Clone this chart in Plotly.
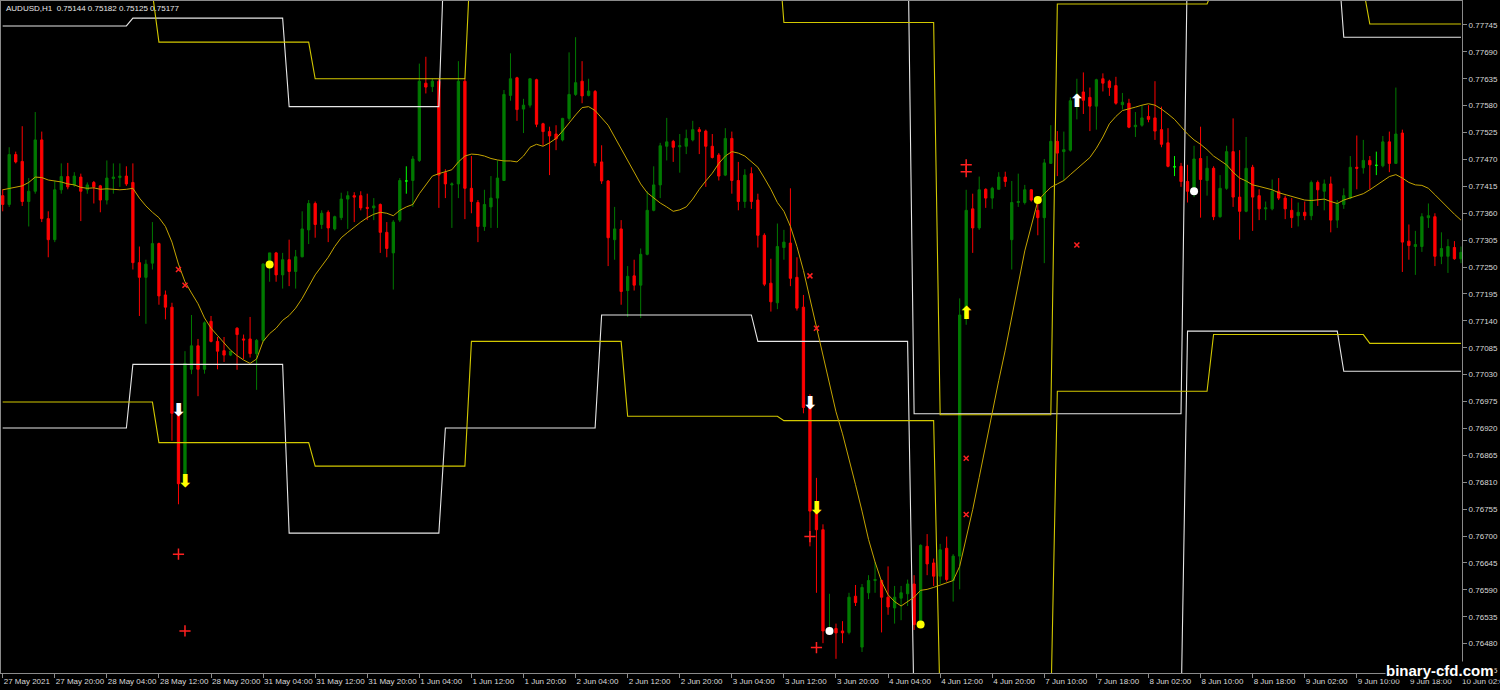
import plotly.graph_objects as go

# ---------------- AUDUSD H1 candles (bar 0 = 27 May 2021 12:00) ----------------
opens = [
    0.77396, 0.77378, 0.77480, 0.77466, 0.77384, 0.77405, 0.77510, 0.77349, 0.77306, 0.77408,
    0.77435, 0.77418, 0.77434, 0.77408, 0.77423, 0.77416, 0.77387, 0.77431, 0.77433, 0.77436,
    0.77423, 0.77259, 0.77229, 0.77258, 0.77298, 0.77193, 0.77168, 0.76951, 0.76807, 0.77041,
    0.77089, 0.77041, 0.77139, 0.77098, 0.77079, 0.77070, 0.77125, 0.77103, 0.77103, 0.77073,
    0.77100, 0.77252, 0.77279, 0.77234, 0.77265, 0.77241, 0.77271, 0.77326, 0.77380, 0.77337,
    0.77362, 0.77328, 0.77351, 0.77389, 0.77396, 0.77396, 0.77372, 0.77371, 0.77378, 0.77321,
    0.77279, 0.77346, 0.77426, 0.77427, 0.77468, 0.77626, 0.77619, 0.77630, 0.77443, 0.77418,
    0.77420, 0.77630, 0.77411, 0.77382, 0.77333, 0.77373, 0.77391, 0.77427, 0.77601, 0.77637,
    0.77573, 0.77581, 0.77633, 0.77543, 0.77527, 0.77522, 0.77510, 0.77554, 0.77603, 0.77630,
    0.77601, 0.77609, 0.77465, 0.77426, 0.77306, 0.77328, 0.77202, 0.77232, 0.77213, 0.77276,
    0.77366, 0.77418, 0.77497, 0.77507, 0.77496, 0.77497, 0.77510, 0.77531, 0.77528, 0.77497,
    0.77479, 0.77438, 0.77513, 0.77427, 0.77384, 0.77441, 0.77387, 0.77315, 0.77217, 0.77177,
    0.77290, 0.77299, 0.77229, 0.77168, 0.76966, 0.76751, 0.76713, 0.76506, 0.76511, 0.76506,
    0.76503, 0.76577, 0.76473, 0.76584, 0.76609, 0.76609, 0.76575, 0.76553, 0.76573, 0.76582,
    0.76602, 0.76519, 0.76679, 0.76645, 0.76618, 0.76675, 0.76609, 0.76659, 0.77150, 0.77369,
    0.77330, 0.77409, 0.77391, 0.77409, 0.77434, 0.77306, 0.77382, 0.77382, 0.77408, 0.77366,
    0.77351, 0.77462, 0.77507, 0.77486, 0.77489, 0.77581, 0.77608, 0.77597, 0.77579, 0.77635,
    0.77630, 0.77621, 0.77582, 0.77585, 0.77537, 0.77540, 0.77558, 0.77555, 0.77531, 0.77504,
    0.77455, 0.77456, 0.77425, 0.77405, 0.77472, 0.77427, 0.77452, 0.77353, 0.77411, 0.77486,
    0.77393, 0.77364, 0.77454, 0.77396, 0.77369, 0.77369, 0.77405, 0.77391, 0.77366, 0.77355,
    0.77362, 0.77355, 0.77423, 0.77405, 0.77420, 0.77346, 0.77378, 0.77391, 0.77454, 0.77453,
    0.77468, 0.77458, 0.77457, 0.77506, 0.77462, 0.77524, 0.77303, 0.77292, 0.77292, 0.77351,
    0.77353, 0.77272, 0.77272, 0.77290, 0.77267,
]
highs = [
    0.77409, 0.77495, 0.77486, 0.77538, 0.77432, 0.77567, 0.77527, 0.77364, 0.77427, 0.77462,
    0.77463, 0.77444, 0.77441, 0.77423, 0.77426, 0.77418, 0.77468, 0.77462, 0.77462, 0.77456,
    0.77462, 0.77292, 0.77265, 0.77342, 0.77300, 0.77202, 0.77177, 0.76963, 0.77078, 0.77152,
    0.77103, 0.77139, 0.77150, 0.77107, 0.77107, 0.77078, 0.77127, 0.77112, 0.77148, 0.77103,
    0.77258, 0.77279, 0.77281, 0.77279, 0.77306, 0.77285, 0.77364, 0.77387, 0.77384, 0.77366,
    0.77366, 0.77355, 0.77402, 0.77405, 0.77403, 0.77405, 0.77400, 0.77391, 0.77380, 0.77342,
    0.77346, 0.77432, 0.77456, 0.77477, 0.77666, 0.77680, 0.77635, 0.77635, 0.77450, 0.77423,
    0.77671, 0.77635, 0.77477, 0.77387, 0.77408, 0.77436, 0.77468, 0.77612, 0.77687, 0.77639,
    0.77594, 0.77635, 0.77635, 0.77545, 0.77537, 0.77540, 0.77555, 0.77689, 0.77720, 0.77671,
    0.77635, 0.77612, 0.77499, 0.77428, 0.77373, 0.77346, 0.77252, 0.77265, 0.77288, 0.77405,
    0.77456, 0.77504, 0.77555, 0.77510, 0.77522, 0.77531, 0.77549, 0.77536, 0.77531, 0.77522,
    0.77483, 0.77534, 0.77527, 0.77465, 0.77450, 0.77454, 0.77400, 0.77319, 0.77267, 0.77339,
    0.77326, 0.77411, 0.77270, 0.77193, 0.76990, 0.76819, 0.76724, 0.76582, 0.76521, 0.76526,
    0.76584, 0.76600, 0.76602, 0.76620, 0.76647, 0.76611, 0.76638, 0.76598, 0.76598, 0.76611,
    0.76620, 0.76683, 0.76704, 0.76654, 0.76684, 0.76699, 0.76663, 0.77186, 0.77408, 0.77400,
    0.77435, 0.77411, 0.77414, 0.77444, 0.77445, 0.77426, 0.77441, 0.77418, 0.77409, 0.77382,
    0.77471, 0.77540, 0.77528, 0.77527, 0.77597, 0.77635, 0.77648, 0.77617, 0.77635, 0.77646,
    0.77633, 0.77639, 0.77606, 0.77594, 0.77567, 0.77581, 0.77581, 0.77630, 0.77578, 0.77534,
    0.77477, 0.77463, 0.77459, 0.77498, 0.77537, 0.77477, 0.77456, 0.77438, 0.77498, 0.77554,
    0.77489, 0.77516, 0.77459, 0.77409, 0.77384, 0.77429, 0.77432, 0.77396, 0.77391, 0.77382,
    0.77384, 0.77427, 0.77427, 0.77429, 0.77435, 0.77387, 0.77411, 0.77477, 0.77519, 0.77510,
    0.77477, 0.77486, 0.77518, 0.77527, 0.77617, 0.77531, 0.77337, 0.77324, 0.77360, 0.77380,
    0.77360, 0.77321, 0.77307, 0.77303, 0.77292,
]
lows = [
    0.77364, 0.77373, 0.77462, 0.77375, 0.77333, 0.77400, 0.77342, 0.77270, 0.77301, 0.77400,
    0.77409, 0.77414, 0.77344, 0.77400, 0.77380, 0.77362, 0.77378, 0.77400, 0.77414, 0.77416,
    0.77245, 0.77150, 0.77134, 0.77245, 0.77173, 0.77143, 0.76895, 0.76765, 0.76805, 0.77031,
    0.76986, 0.77032, 0.77096, 0.77041, 0.77056, 0.77068, 0.77040, 0.77062, 0.77065, 0.76999,
    0.77096, 0.77220, 0.77220, 0.77206, 0.77211, 0.77206, 0.77270, 0.77297, 0.77310, 0.77328,
    0.77301, 0.77325, 0.77346, 0.77328, 0.77342, 0.77366, 0.77346, 0.77346, 0.77279, 0.77270,
    0.77204, 0.77342, 0.77400, 0.77373, 0.77465, 0.77605, 0.77608, 0.77371, 0.77391, 0.77330,
    0.77391, 0.77348, 0.77360, 0.77301, 0.77324, 0.77330, 0.77330, 0.77426, 0.77590, 0.77549,
    0.77524, 0.77576, 0.77536, 0.77498, 0.77438, 0.77489, 0.77507, 0.77549, 0.77600, 0.77585,
    0.77599, 0.77456, 0.77420, 0.77252, 0.77265, 0.77173, 0.77148, 0.77202, 0.77146, 0.77274,
    0.77364, 0.77391, 0.77468, 0.77465, 0.77443, 0.77481, 0.77507, 0.77481, 0.77414, 0.77472,
    0.77427, 0.77436, 0.77400, 0.77366, 0.77371, 0.77369, 0.77290, 0.77211, 0.77159, 0.77164,
    0.77265, 0.77211, 0.77161, 0.76951, 0.76679, 0.76584, 0.76481, 0.76499, 0.76449, 0.76481,
    0.76499, 0.76557, 0.76463, 0.76571, 0.76584, 0.76503, 0.76539, 0.76521, 0.76528, 0.76557,
    0.76508, 0.76517, 0.76620, 0.76598, 0.76602, 0.76607, 0.76566, 0.76591, 0.77132, 0.77279,
    0.77326, 0.77371, 0.77369, 0.77409, 0.77414, 0.77245, 0.77373, 0.77378, 0.77384, 0.77315,
    0.77258, 0.77462, 0.77436, 0.77427, 0.77486, 0.77552, 0.77563, 0.77528, 0.77531, 0.77609,
    0.77600, 0.77582, 0.77572, 0.77534, 0.77516, 0.77537, 0.77546, 0.77510, 0.77495, 0.77454,
    0.77436, 0.77414, 0.77382, 0.77393, 0.77351, 0.77396, 0.77346, 0.77351, 0.77408, 0.77373,
    0.77306, 0.77362, 0.77324, 0.77346, 0.77346, 0.77366, 0.77387, 0.77348, 0.77330, 0.77333,
    0.77346, 0.77346, 0.77375, 0.77366, 0.77321, 0.77330, 0.77369, 0.77389, 0.77409, 0.77441,
    0.77409, 0.77438, 0.77454, 0.77444, 0.77462, 0.77240, 0.77265, 0.77234, 0.77281, 0.77330,
    0.77252, 0.77256, 0.77238, 0.77265, 0.77258,
]
closes = [
    0.77378, 0.77480, 0.77465, 0.77384, 0.77405, 0.77510, 0.77349, 0.77306, 0.77408, 0.77435,
    0.77414, 0.77436, 0.77405, 0.77418, 0.77414, 0.77387, 0.77432, 0.77434, 0.77436, 0.77420,
    0.77259, 0.77229, 0.77256, 0.77298, 0.77191, 0.77168, 0.76951, 0.76807, 0.77053, 0.77089,
    0.77041, 0.77136, 0.77098, 0.77078, 0.77070, 0.77078, 0.77112, 0.77101, 0.77073, 0.77100,
    0.77256, 0.77279, 0.77234, 0.77265, 0.77241, 0.77271, 0.77328, 0.77380, 0.77337, 0.77360,
    0.77330, 0.77353, 0.77389, 0.77396, 0.77393, 0.77371, 0.77370, 0.77375, 0.77321, 0.77288,
    0.77342, 0.77427, 0.77426, 0.77471, 0.77630, 0.77618, 0.77630, 0.77438, 0.77420, 0.77420,
    0.77630, 0.77411, 0.77384, 0.77333, 0.77378, 0.77391, 0.77432, 0.77603, 0.77635, 0.77572,
    0.77581, 0.77635, 0.77542, 0.77527, 0.77518, 0.77512, 0.77554, 0.77603, 0.77627, 0.77600,
    0.77610, 0.77463, 0.77426, 0.77310, 0.77328, 0.77200, 0.77231, 0.77213, 0.77276, 0.77366,
    0.77418, 0.77498, 0.77506, 0.77495, 0.77498, 0.77513, 0.77531, 0.77527, 0.77497, 0.77474,
    0.77436, 0.77513, 0.77427, 0.77384, 0.77438, 0.77384, 0.77315, 0.77215, 0.77179, 0.77292,
    0.77301, 0.77227, 0.77166, 0.76963, 0.76751, 0.76713, 0.76506, 0.76512, 0.76502, 0.76502,
    0.76575, 0.76564, 0.76595, 0.76609, 0.76611, 0.76575, 0.76555, 0.76575, 0.76584, 0.76602,
    0.76519, 0.76681, 0.76643, 0.76618, 0.76672, 0.76611, 0.76659, 0.77152, 0.77366, 0.77330,
    0.77408, 0.77391, 0.77411, 0.77434, 0.77425, 0.77382, 0.77384, 0.77408, 0.77387, 0.77351,
    0.77463, 0.77507, 0.77483, 0.77490, 0.77590, 0.77603, 0.77591, 0.77579, 0.77633, 0.77626,
    0.77617, 0.77585, 0.77587, 0.77536, 0.77540, 0.77555, 0.77552, 0.77528, 0.77501, 0.77456,
    0.77455, 0.77425, 0.77405, 0.77471, 0.77429, 0.77452, 0.77353, 0.77411, 0.77486, 0.77393,
    0.77364, 0.77452, 0.77393, 0.77369, 0.77371, 0.77405, 0.77391, 0.77369, 0.77351, 0.77362,
    0.77355, 0.77423, 0.77408, 0.77420, 0.77346, 0.77380, 0.77396, 0.77454, 0.77452, 0.77468,
    0.77459, 0.77458, 0.77506, 0.77462, 0.77522, 0.77301, 0.77294, 0.77296, 0.77353, 0.77355,
    0.77272, 0.77288, 0.77292, 0.77267, 0.77280,
]

# smoothed moving average drawn over the candles
ma_values = [
    0.77408, 0.77411, 0.77414, 0.77416, 0.77423, 0.77434, 0.77433, 0.77428, 0.77426, 0.77424,
    0.77420, 0.77418, 0.77413, 0.77411, 0.77412, 0.77409, 0.77410, 0.77409, 0.77408, 0.77409,
    0.77411, 0.77391, 0.77375, 0.77362, 0.77351, 0.77333, 0.77301, 0.77256, 0.77220, 0.77197,
    0.77175, 0.77146, 0.77125, 0.77110, 0.77094, 0.77080, 0.77069, 0.77060, 0.77053, 0.77062,
    0.77098, 0.77114, 0.77125, 0.77141, 0.77151, 0.77166, 0.77186, 0.77209, 0.77234, 0.77252,
    0.77270, 0.77292, 0.77310, 0.77321, 0.77332, 0.77342, 0.77351, 0.77358, 0.77362, 0.77360,
    0.77355, 0.77366, 0.77373, 0.77378, 0.77400, 0.77418, 0.77436, 0.77441, 0.77445, 0.77449,
    0.77465, 0.77477, 0.77481, 0.77480, 0.77477, 0.77472, 0.77469, 0.77467, 0.77467, 0.77465,
    0.77477, 0.77495, 0.77501, 0.77497, 0.77504, 0.77513, 0.77528, 0.77545, 0.77561, 0.77576,
    0.77578, 0.77570, 0.77555, 0.77540, 0.77516, 0.77492, 0.77465, 0.77443, 0.77420, 0.77402,
    0.77391, 0.77381, 0.77373, 0.77364, 0.77367, 0.77373, 0.77389, 0.77409, 0.77426, 0.77442,
    0.77462, 0.77477, 0.77486, 0.77483, 0.77477, 0.77465, 0.77454, 0.77432, 0.77409, 0.77382,
    0.77364, 0.77333, 0.77292, 0.77243, 0.77184, 0.77125, 0.77067, 0.77013, 0.76954, 0.76909,
    0.76859, 0.76805, 0.76751, 0.76693, 0.76647, 0.76607, 0.76580, 0.76566, 0.76557, 0.76566,
    0.76575, 0.76589, 0.76591, 0.76595, 0.76600, 0.76604, 0.76609, 0.76638, 0.76694, 0.76754,
    0.76820, 0.76888, 0.76957, 0.77018, 0.77080, 0.77146, 0.77215, 0.77283, 0.77334, 0.77385,
    0.77400, 0.77413, 0.77420, 0.77427, 0.77439, 0.77451, 0.77462, 0.77474, 0.77493, 0.77516,
    0.77543, 0.77558, 0.77570, 0.77573, 0.77577, 0.77581, 0.77584, 0.77581, 0.77573, 0.77563,
    0.77552, 0.77537, 0.77522, 0.77510, 0.77501, 0.77490, 0.77477, 0.77468, 0.77459, 0.77444,
    0.77432, 0.77426, 0.77418, 0.77415, 0.77411, 0.77408, 0.77402, 0.77398, 0.77394, 0.77391,
    0.77387, 0.77386, 0.77387, 0.77389, 0.77384, 0.77380, 0.77387, 0.77391, 0.77395, 0.77400,
    0.77408, 0.77417, 0.77426, 0.77435, 0.77439, 0.77432, 0.77423, 0.77418, 0.77417, 0.77411,
    0.77398, 0.77384, 0.77371, 0.77358, 0.77346,
]

# daily channel levels: first bar of each level and its price
white_upper_start = [0, 20, 44, 68, 140, 182, 206]
white_upper_level = [0.77743, 0.77759, 0.77578, 0.77960, 0.76950, 0.77900, 0.77720]
white_lower_start = [0, 20, 44, 68, 92, 116, 140, 182, 206]
white_lower_level = [0.76921, 0.77051, 0.76706, 0.76921, 0.77152, 0.77098, 0.76340, 0.77119, 0.77037]
yellow_upper_start = [0, 24, 48, 72, 120, 144, 162, 186, 210]
yellow_upper_level = [0.77810, 0.77710, 0.77635, 0.77920, 0.77750, 0.76948, 0.77788, 0.77820, 0.77747]
yellow_lower_start = [0, 24, 48, 72, 96, 120, 144, 162, 186, 210]
yellow_lower_level = [0.76974, 0.76891, 0.76843, 0.77098, 0.76945, 0.76936, 0.76350, 0.76996, 0.77112, 0.77094]

# signal marks
white_down_bar, white_down_price = [27, 124], [0.76954, 0.76968]
yellow_down_bar, yellow_down_price = [28, 125], [0.76810, 0.76754]
yellow_up_bar, yellow_up_price = [148], [0.77152]
white_up_bar, white_up_price = [165], [0.77587]
yellow_dot_bar, yellow_dot_price = [41, 141, 159], [0.77255, 0.76519, 0.77387]
white_dot_bar, white_dot_price = [127, 183], [0.76506, 0.77405]
red_x_bar = [27, 28, 124, 125, 148, 148, 165]
red_x_price = [0.77245, 0.77213, 0.77232, 0.77125, 0.76859, 0.76744, 0.77295]
red_plus_bar = [27, 28, 124, 125, 148, 148]
red_plus_price = [0.76663, 0.76506, 0.76699, 0.76472, 0.77459, 0.77445]

# axis labels
time_labels = [
    "27 May 2021", "27 May 20:00", "28 May 04:00", "28 May 12:00", "28 May 20:00",
    "31 May 04:00", "31 May 12:00", "31 May 20:00", "1 Jun 04:00", "1 Jun 12:00",
    "1 Jun 20:00", "2 Jun 04:00", "2 Jun 12:00", "2 Jun 20:00", "3 Jun 04:00",
    "3 Jun 12:00", "3 Jun 20:00", "4 Jun 04:00", "4 Jun 12:00", "4 Jun 20:00",
    "7 Jun 10:00", "7 Jun 18:00", "8 Jun 02:00", "8 Jun 10:00", "8 Jun 18:00",
    "9 Jun 02:00", "9 Jun 10:00", "9 Jun 18:00", "10 Jun 02:00",
]
time_label_bars = [0, 8, 16, 24, 32, 40, 48, 56, 64, 72, 80, 88, 96, 104, 112, 120, 128,
                   136, 144, 152, 160, 168, 176, 184, 192, 200, 208, 216, 224]
price_ticks = [
    0.76425, 0.76480, 0.76535, 0.76590, 0.76645, 0.76700, 0.76755, 0.76810, 0.76865,
    0.76920, 0.76975, 0.77030, 0.77085, 0.77140, 0.77195, 0.77250, 0.77305, 0.77360,
    0.77415, 0.77470, 0.77525, 0.77580, 0.77635, 0.77690, 0.77745,
]

header = "AUDUSD,H1  0.75144 0.75182 0.75125 0.75177"
watermark = "binary-cfd.com"

# ---------------------------------------------------------------------------
n_bars = len(opens)
bars = list(range(n_bars))
FONT = "Liberation Sans"
AXIS = "#8a8a8a"
TEXT = "#d8d8d8"


def step_series(starts, levels):
    out = []
    for k, s in enumerate(starts):
        e = starts[k + 1] if k + 1 < len(starts) else n_bars
        out.extend([levels[k]] * (e - s))
    return out


def candle_trace(idx, color):
    return go.Candlestick(
        x=idx,
        open=[opens[i] for i in idx],
        high=[highs[i] for i in idx],
        low=[lows[i] for i in idx],
        close=[closes[i] for i in idx],
        increasing=dict(line=dict(color=color, width=1), fillcolor=color),
        decreasing=dict(line=dict(color=color, width=1), fillcolor=color),
        whiskerwidth=0,
        hoverinfo="skip",
        showlegend=False,
    )


bull = [i for i in bars if closes[i] > opens[i]]
bear = [i for i in bars if closes[i] < opens[i]]
doji = [i for i in bars if closes[i] == opens[i]]

fig = go.Figure()
fig.add_trace(candle_trace(bull, "#007a00"))
fig.add_trace(candle_trace(bear, "#ff0000"))
fig.add_trace(candle_trace(doji, "#00ff00"))

line_sets = [
    (white_upper_start, white_upper_level, "#e6e6e6"),
    (white_lower_start, white_lower_level, "#e6e6e6"),
    (yellow_upper_start, yellow_upper_level, "#d2c800"),
    (yellow_lower_start, yellow_lower_level, "#d2c800"),
]
for starts, levels, color in line_sets:
    fig.add_trace(go.Scatter(x=bars, y=step_series(starts, levels), mode="lines",
                             line=dict(color=color, width=1.1), hoverinfo="skip",
                             showlegend=False))

fig.add_trace(go.Scatter(x=bars, y=ma_values, mode="lines",
                         line=dict(color="#c4a400", width=1), hoverinfo="skip",
                         showlegend=False))


def glyphs(xs, ys, glyph, color, size):
    return go.Scatter(x=xs, y=ys, mode="text", text=["<b>" + glyph + "</b>"] * len(xs),
                      textposition="middle center",
                      textfont=dict(family="DejaVu Sans", size=size, color=color),
                      hoverinfo="skip", showlegend=False)


def marks(xs, ys, symbol, color, size, width=0):
    return go.Scatter(x=xs, y=ys, mode="markers",
                      marker=dict(symbol=symbol, color=color, size=size,
                                  line=dict(color=color, width=width)),
                      hoverinfo="skip", showlegend=False)


fig.add_trace(marks(red_x_bar, red_x_price, "x-thin", "#ff2020", 5, 1.5))
fig.add_trace(marks(red_plus_bar, red_plus_price, "cross-thin", "#ff2020", 8, 1.5))
fig.add_trace(marks(yellow_dot_bar, yellow_dot_price, "circle", "#ffff00", 8))
fig.add_trace(marks(white_dot_bar, white_dot_price, "circle", "#ffffff", 8))
fig.add_trace(glyphs(white_down_bar, white_down_price, "\u2b07", "#ffffff", 18))
fig.add_trace(glyphs(yellow_down_bar, yellow_down_price, "\u2b07", "#ffff00", 18))
fig.add_trace(glyphs(white_up_bar, white_up_price, "\u2b06", "#ffffff", 18))
fig.add_trace(glyphs(yellow_up_bar, yellow_up_price, "\u2b06", "#ffff00", 18))

fig.update_layout(
    width=1500, height=690,
    margin=dict(l=1, r=38, t=1, b=17),
    paper_bgcolor="black", plot_bgcolor="black",
    showlegend=False, boxgap=0.5, hovermode=False,
    xaxis=dict(
        range=[-0.26, 224.16], showgrid=False, zeroline=False,
        showline=True, mirror=True, linecolor=AXIS, linewidth=1,
        tickmode="array", tickvals=time_label_bars, ticktext=time_labels,
        ticks="outside", ticklen=4, tickcolor=AXIS, tickwidth=1, tickangle=0,
        ticklabelposition="outside right", ticklabeloverflow="allow",
        tickfont=dict(family=FONT, size=8, color=TEXT),
        rangeslider=dict(visible=False), automargin=False, fixedrange=True,
    ),
    yaxis=dict(
        range=[0.76420, 0.77794], side="right", showgrid=False, zeroline=False,
        showline=True, mirror=True, linecolor=AXIS, linewidth=1,
        tickmode="array", tickvals=price_ticks, tickformat=".5f",
        ticks="outside", ticklen=4, tickcolor=AXIS, tickwidth=1,
        tickfont=dict(family=FONT, size=8, color=TEXT),
        automargin=False, fixedrange=True,
    ),
    annotations=[
        dict(text=header, xref="paper", yref="paper", x=0, y=1,
             xanchor="left", yanchor="top", xshift=3, yshift=-1, showarrow=False,
             font=dict(family=FONT, size=8, color="#e8e8e8")),
        dict(text="<b>" + watermark + "</b>", xref="paper", yref="paper",
             x=0.985, y=0.003, xanchor="center", yanchor="middle", showarrow=False,
             bgcolor="black", borderpad=0,
             font=dict(family=FONT, size=15, color="#ffffff")),
    ],
)

fig.write_html("out.html")
